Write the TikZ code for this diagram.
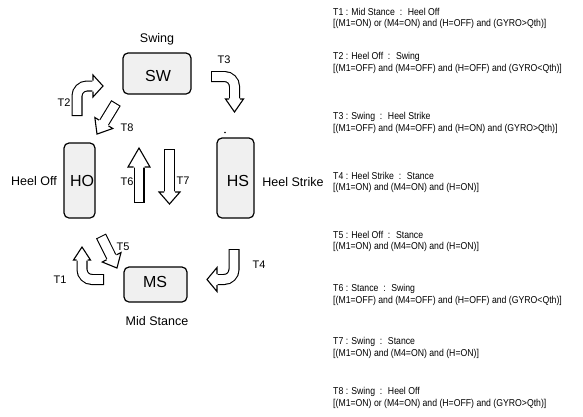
\documentclass[tikz,border=0pt]{standalone}
\usepackage{fontspec}
\usepackage{graphicx}
\setmainfont{Liberation Sans}
\newcommand\cnd[1]{\scalebox{0.87}[1]{#1}}
\begin{document}
\begin{tikzpicture}[x=1pt,y=-1pt,
  statebox/.style={draw,line width=1.2pt,rounded corners=5pt,fill=gray!12,inner sep=0pt},
  boxtext/.style={font=\fontsize{16}{18}\selectfont},
  lbl/.style={font=\fontsize{12.5}{14}\selectfont,inner sep=0pt},
  tlbl/.style={font=\fontsize{11}{12}\selectfont,inner sep=0pt},
  cond/.style={font=\fontsize{10}{11}\selectfont,anchor=west,inner sep=0pt},
  bodyout/.style={line width=11pt},
  bodyin/.style={white,line width=8.8pt,shorten <=1.1pt},
]
\newcommand\bhead[5]{%
  \begin{scope}[shift={#1},rotate=#2]
    \fill[white] (-0.6,-#3+0.6) -- (0,-#4) -- (#5,0) -- (0,#4) -- (-0.6,#3-0.6) -- cycle;
    \draw[line width=1.1pt,line join=miter] (0,-#3) -- (0,-#4) -- (#5,0) -- (0,#4) -- (0,#3);
  \end{scope}}
\useasboundingbox (0,0) rectangle (583,416);

% state boxes
\node[statebox,minimum width=68pt,minimum height=41pt] (SW) at (157,73.5) {};
\node[statebox,minimum width=31pt,minimum height=75pt] (HO) at (79.5,180.5) {};
\node[statebox,minimum width=37pt,minimum height=80pt] (HS) at (235.5,178) {};
\node[statebox,minimum width=63pt,minimum height=35pt] (MS) at (155.5,284.5) {};
\node[boxtext] (swt) at (158,76) {SW};
\node[boxtext] (hot) at (82,181) {HO};
\node[boxtext] (hst) at (238,181) {HS};
\node[boxtext] (mst) at (155,282) {MS};

% state labels
\node[lbl] (lsw) at (157,39) {Swing};
\node[lbl] (lho) at (34,181) {Heel Off};
\node[lbl] (lhs) at (293,182) {Heel Strike};
\node[lbl] (lms) at (157,321) {Mid Stance};
\fill (225,132.5) circle (0.9pt);

% T3 curved
\coordinate (t3a) at (211,76.5); \coordinate (t3b) at (234.5,99);
\draw[bodyout,rounded corners=10pt] (t3a) -- (234.5,76.5) -- (t3b);
\draw[bodyin,rounded corners=10pt] (t3a) -- (234.5,76.5) -- (t3b);
\bhead{(t3b)}{-90}{5.5}{9}{13}
% T2 curved
\coordinate (t2a) at (77,116); \coordinate (t2b) at (93,86);
\draw[bodyout,rounded corners=10pt] (t2a) -- (77,86) -- (t2b);
\draw[bodyin,rounded corners=10pt] (t2a) -- (77,86) -- (t2b);
\bhead{(t2b)}{0}{5.5}{11}{10}
% T1 curved
\coordinate (t1a) at (104,279.5); \coordinate (t1b) at (82,260);
\draw[bodyout,rounded corners=10pt] (t1a) -- (82,279.5) -- (t1b);
\draw[bodyin,rounded corners=10pt] (t1a) -- (82,279.5) -- (t1b);
\bhead{(t1b)}{90}{5.5}{8.5}{13}
% T4 curved
\coordinate (t4a) at (234,249); \coordinate (t4b) at (217,279.5);
\draw[bodyout,rounded corners=10pt] (t4a) -- (234,279.5) -- (t4b);
\draw[bodyin,rounded corners=10pt] (t4a) -- (234,279.5) -- (t4b);
\bhead{(t4b)}{180}{5.5}{12}{10}
% T6 up
\coordinate (t6a) at (139,203); \coordinate (t6b) at (139,167);
\draw[bodyout] (t6a) -- (t6b); \draw[bodyin] (t6a) -- (t6b);
\bhead{(t6b)}{90}{5.5}{11}{19}
% T7 down
\coordinate (t7a) at (169.5,149); \coordinate (t7b) at (169.5,192);
\draw[bodyout] (t7a) -- (t7b); \draw[bodyin] (t7a) -- (t7b);
\bhead{(t7b)}{-90}{5.5}{10.5}{12}
% T8 diagonal
\coordinate (t8a) at (116,103); \coordinate (t8b) at (103.8,123);
\draw[bodyout] (t8a) -- (t8b); \draw[bodyin] (t8a) -- (t8b);
\bhead{(t8b)}{-121.5}{5.5}{10.5}{13}
% T5 diagonal
\coordinate (t5a) at (101,236); \coordinate (t5b) at (111.6,257.3);
\draw[bodyout] (t5a) -- (t5b); \draw[bodyin] (t5a) -- (t5b);
\bhead{(t5b)}{-63.4}{5.5}{10.5}{12}

% transition labels
\node[tlbl] (l3) at (224,60) {T3};
\node[tlbl] (l2) at (64,103) {T2};
\node[tlbl] (l8) at (127,128) {T8};
\node[tlbl] (l6) at (127,182) {T6};
\node[tlbl] (l7) at (183,181) {T7};
\node[tlbl] (l5) at (123,247) {T5};
\node[tlbl] (l1) at (60,280) {T1};
\node[tlbl] (l4) at (259,265) {T4};

% conditions
\node[cond] (c1) at (333,12) {\cnd{T1 : Mid Stance \ : \ Heel Off}};
\node[cond] (c1b) at (333,24) {\cnd{[(M1=ON) or (M4=ON) and (H=OFF) and (GYRO>Qth)]}};
\node[cond] (c2) at (333,57) {\cnd{T2 : Heel Off \ : \ Swing}};
\node[cond] (c2b) at (333,69) {\cnd{[(M1=OFF) and (M4=OFF) and (H=OFF) and (GYRO<Qth)]}};
\node[cond] (c3) at (333,117) {\cnd{T3 : Swing \ : \ Heel Strike}};
\node[cond] (c3b) at (333,129) {\cnd{[(M1=OFF) and (M4=OFF) and (H=ON) and (GYRO>Qth)]}};
\node[cond] (c4) at (333,176) {\cnd{T4 : Heel Strike \ : \ Stance}};
\node[cond] (c4b) at (333,188) {\cnd{[(M1=ON) and (M4=ON) and (H=ON)]}};
\node[cond] (c5) at (333,235) {\cnd{T5 : Heel Off \ : \ Stance}};
\node[cond] (c5b) at (333,247) {\cnd{[(M1=ON) and (M4=ON) and (H=ON)]}};
\node[cond] (c6) at (333,289) {\cnd{T6 : Stance \ : \ Swing}};
\node[cond] (c6b) at (333,301) {\cnd{[(M1=OFF) and (M4=OFF) and (H=OFF) and (GYRO<Qth)]}};
\node[cond] (c7) at (333,342) {\cnd{T7 : Swing \ : \ Stance}};
\node[cond] (c7b) at (333,354) {\cnd{[(M1=ON) and (M4=ON) and (H=ON)]}};
\node[cond] (c8) at (333,392) {\cnd{T8 : Swing \ : \ Heel Off}};
\node[cond] (c8b) at (333,404) {\cnd{[(M1=ON) or (M4=ON) and (H=OFF) and (GYRO>Qth)]}};
\end{tikzpicture}
\end{document}
